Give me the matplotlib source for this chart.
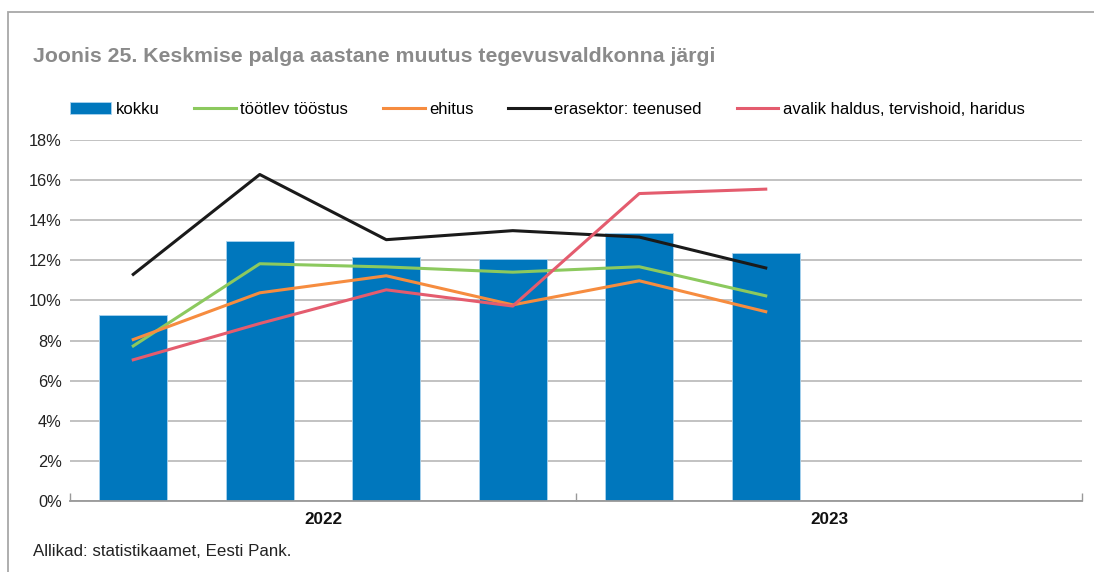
import matplotlib.pyplot as plt
from matplotlib.patches import Rectangle
import numpy as np

plt.rcParams['font.family'] = ['Liberation Sans', 'DejaVu Sans']

# quarterly data, 2022 Q1 .. 2023 Q2 (2023 Q3-Q4 empty)
quarters = ['2022 I', '2022 II', '2022 III', '2022 IV', '2023 I', '2023 II', '2023 III', '2023 IV']
years = ['2022', '2023']
kokku = [9.28, 12.97, 12.18, 12.08, 13.38, 12.38]
tootlev = [7.73, 11.83, 11.67, 11.41, 11.68, 10.23]
ehitus = [8.05, 10.38, 11.23, 9.78, 10.98, 9.44]
erasektor = [11.30, 16.28, 13.03, 13.48, 13.16, 11.62]
avalik = [7.04, 8.85, 10.53, 9.72, 15.33, 15.55]
yticks = [0, 2, 4, 6, 8, 10, 12, 14, 16, 18]

BLUE = '#0077bd'
GREEN = '#8cc95e'
ORANGE = '#f68c3f'
BLACK = '#1a1a1a'
PINK = '#e45c6e'
GRID = '#bdbdbd'

fig = plt.figure(figsize=(10.94, 5.72), dpi=100)
ax = fig.add_axes([70 / 1094, 1 - 501 / 572, 1012 / 1094, 361 / 572])

x = np.arange(len(quarters))
n = len(kokku)
ax.bar(x[:n], kokku, width=0.54, color=BLUE, edgecolor='#a9d3ee', linewidth=0.6, label='kokku', zorder=2)
ax.plot(x[:n], tootlev, color=GREEN, lw=2.2, label='töötlev tööstus', zorder=3)
ax.plot(x[:n], ehitus, color=ORANGE, lw=2.2, label='ehitus', zorder=3)
ax.plot(x[:n], erasektor, color=BLACK, lw=2.2, label='erasektor: teenused', zorder=3)
ax.plot(x[:n], avalik, color=PINK, lw=2.2, label='avalik haldus, tervishoid, haridus', zorder=3)

ax.set_xlim(-0.5, len(quarters) - 0.5)
ax.set_ylim(0, 18)
ax.set_yticks(yticks)
ax.set_yticklabels([f'{v}%' for v in yticks], fontsize=11.8, color='#222222')
ax.yaxis.grid(True, color=GRID, lw=1.3, zorder=0)
ax.set_axisbelow(True)
for s in ['top', 'right', 'left']:
    ax.spines[s].set_visible(False)
ax.spines['bottom'].set_color('#999999')
ax.spines['bottom'].set_linewidth(1.3)
ax.tick_params(axis='y', length=0, pad=6)

# year boundaries as ticks, year names centred under each year
ax.set_xticks([-0.5, 3.5, 7.5])
ax.set_xticklabels([])
ax.tick_params(axis='x', direction='in', length=6, color='#999999', width=1)
for i, yr in enumerate(years):
    ax.text(i * 4 + 1.5, -0.55, yr, ha='center', va='top', fontsize=12.3, fontweight='bold',
            transform=ax.transData, color='#111111')

fig.text(33 / 1094, 1 - 57 / 572, 'Joonis 25. Keskmise palga aastane muutus tegevusvaldkonna järgi',
         fontsize=15.3, fontweight='bold', color='#8a8a8a', va='center', ha='left')
fig.text(33 / 1094, 1 - 551 / 572, 'Allikad: statistikaamet, Eesti Pank.',
         fontsize=12.2, color='#222222', va='center', ha='left')

h, l = ax.get_legend_handles_labels()
order = [4, 0, 1, 2, 3]
fig.legend([h[i] for i in order], [l[i] for i in order], loc='center left',
           bbox_to_anchor=(63 / 1094, 1 - 109 / 572), ncol=5, borderaxespad=0,
           frameon=False, fontsize=12, handlelength=2.5, handleheight=0.7, handletextpad=0.25,
           columnspacing=2.1)

fig.add_artist(Rectangle((8 / 1094, -0.1), 1.2, 1 - 12 / 572 + 0.1, transform=fig.transFigure,
                         fill=False, edgecolor='#a8a8a8', lw=1.3))

fig.savefig('out.png', dpi=100)
